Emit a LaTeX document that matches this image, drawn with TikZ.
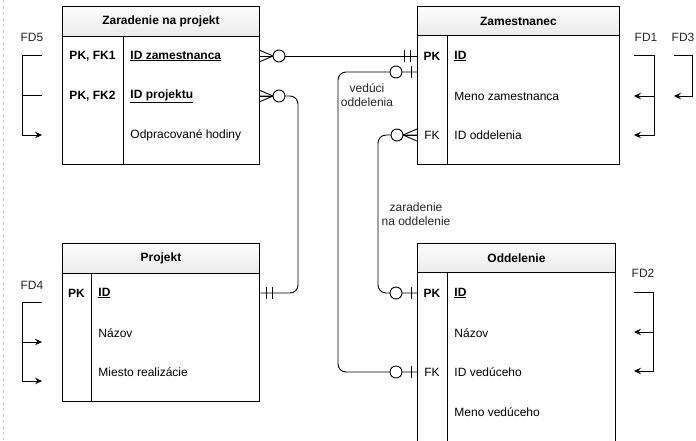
\documentclass[tikz,border=0pt]{standalone}
\usepackage{fontspec}
\setmainfont{Liberation Sans}
\usetikzlibrary{arrows.meta,calc}

\begin{document}
\begin{tikzpicture}[x=1pt,y=-1pt,line width=0.9pt,
  font=\fontsize{12}{14}\selectfont,
  hdr/.style={draw=black, top color=gray!2, bottom color=gray!16, inner sep=0pt,
    minimum height=30pt, anchor=north west, font=\fontsize{12}{14}\selectfont\bfseries},
  bodybox/.style={draw=black, fill=white, inner sep=0pt, anchor=north west},
  rowbox/.style={inner sep=0pt, outer sep=0pt, minimum height=1pt},
  keytxt/.style={inner sep=0pt, font=\fontsize{12}{14}\selectfont\bfseries},
  keyreg/.style={inner sep=0pt},
  attr/.style={inner sep=0pt, anchor=west},
  lbl/.style={inner sep=0pt, align=center, text=black!85, font=\fontsize{12}{14}\selectfont},
  conn/.style={draw=black, rounded corners=8pt},
  fdarrow/.style={draw=black, -{Stealth[length=7pt,width=6.5pt,inset=2.5pt]}},
  pics/manyzero/.style={code={
    \draw (0,-6) -- (14,0) -- (0,6);
    \draw (0,0) -- (14,0);
    \draw[fill=white] (20,0) circle[radius=6];
  }},
  pics/onlyone/.style={code={
    \draw (7,-6) -- (7,6);
    \draw (13,-6) -- (13,6);
  }},
  pics/zeroone/.style={code={
    \draw (6,-6) -- (6,6);
    \draw[fill=white] (21,0) circle[radius=6];
  }}
]
\useasboundingbox (0,0) rectangle (696,440);
\clip (0,0) rectangle (696,440);
\fill[white] (0,0) rectangle (696,440);

% page edge
\draw[gray!45, line width=0.6pt, dash pattern=on 3pt off 3pt] (3.5,0) -- (3.5,440);

% ---------- Zaradenie na projekt ----------
\node[bodybox, minimum width=197pt, minimum height=128pt] (zn-b) at (62,36) {};
\node[hdr, minimum width=197pt] (zn-h) at (62,6) {Zaradenie na projekt};
\draw ($(zn-b.north west)+(61,0)$) -- ($(zn-b.south west)+(61,0)$);
\node[rowbox, minimum width=197pt] (zn-r1) at (160.5,56) {};
\node[rowbox, minimum width=197pt] (zn-r2) at (160.5,96) {};
\node[rowbox, minimum width=197pt] (zn-r3) at (160.5,135) {};
\node[keytxt] (zn-k1) at (92.5,56) {PK, FK1};
\node[keytxt] (zn-k2) at (92.5,96) {PK, FK2};
\node[attr, font=\fontsize{12}{14}\selectfont\bfseries] (zn-a1) at (130,56) {\underline{ID zamestnanca}};
\node[attr, font=\fontsize{12}{14}\selectfont\bfseries] (zn-a2) at (130,96) {\underline{ID projektu}};
\node[attr] (zn-a3) at (130,135) {Odpracované hodiny};

% ---------- Zamestnanec ----------
\node[bodybox, minimum width=202pt, minimum height=129pt] (zm-b) at (417,35) {};
\node[hdr, minimum width=202pt, minimum height=29pt] (zm-h) at (417,6) {Zamestnanec};
\draw ($(zm-b.north west)+(30,0)$) -- ($(zm-b.south west)+(30,0)$);
\node[rowbox, minimum width=202pt] (zm-r1) at (518,56) {};
\node[rowbox, minimum width=202pt] (zm-r2) at (518,96) {};
\node[rowbox, minimum width=202pt] (zm-r3) at (518,135) {};
\coordinate (zm-lead) at ($(zm-r1.west)+(0,16)$);
\node[keytxt] (zm-k1) at (432,56) {PK};
\node[keyreg] (zm-k3) at (432,135) {FK};
\node[attr, font=\fontsize{12}{14}\selectfont\bfseries] (zm-a1) at (454,56) {\underline{ID}};
\node[attr] (zm-a2) at (454,96) {Meno zamestnanca};
\node[attr] (zm-a3) at (454,135) {ID oddelenia};

% ---------- Projekt ----------
\node[bodybox, minimum width=197pt, minimum height=128pt] (pj-b) at (62,273) {};
\node[hdr, minimum width=197pt] (pj-h) at (62,243) {Projekt};
\draw ($(pj-b.north west)+(29,0)$) -- ($(pj-b.south west)+(29,0)$);
\node[rowbox, minimum width=197pt] (pj-r1) at (160.5,293) {};
\node[keytxt] (pj-k1) at (76.5,293) {PK};
\node[attr, font=\fontsize{12}{14}\selectfont\bfseries] (pj-a1) at (98,293) {\underline{ID}};
\node[attr] (pj-a2) at (98,333) {Názov};
\node[attr] (pj-a3) at (98,372) {Miesto realizácie};

% ---------- Oddelenie ----------
\node[bodybox, minimum width=198pt, minimum height=180pt] (od-b) at (417,272) {};
\node[hdr, minimum width=198pt, minimum height=29pt] (od-h) at (417,243) {Oddelenie};
\draw ($(od-b.north west)+(30,0)$) -- ($(od-b.south west)+(30,0)$);
\node[rowbox, minimum width=198pt] (od-r1) at (516,293) {};
\node[rowbox, minimum width=198pt] (od-r3) at (516,372) {};
\node[keytxt] (od-k1) at (432,293) {PK};
\node[keyreg] (od-k3) at (432,372) {FK};
\node[attr, font=\fontsize{12}{14}\selectfont\bfseries] (od-a1) at (454,293) {\underline{ID}};
\node[attr] (od-a2) at (454,333) {Názov};
\node[attr] (od-a3) at (454,372) {ID vedúceho};
\node[attr] (od-a4) at (454,412) {Meno vedúceho};

% ---------- relationships ----------
\draw[conn] (zn-r1.east) -- (zm-r1.west);
\draw[conn] (zn-r2.east) -- ++(39,0) |- (pj-r1.east);
\draw[conn] (zm-lead) -- ++(-79,0) |- (od-r3.west);
\draw[conn] (zm-r3.west) -- ++(-39,0) |- (od-r1.west);

\pic at (zn-r1.east) {manyzero};
\pic at (zn-r2.east) {manyzero};
\pic[xscale=-1] at (zm-r1.west) {onlyone};
\pic at (pj-r1.east) {onlyone};
\pic[xscale=-1] at (zm-lead) {zeroone};
\pic[xscale=-1] at (od-r3.west) {zeroone};
\pic[xscale=-1] at (zm-r3.west) {manyzero};
\pic[xscale=-1] at (od-r1.west) {zeroone};

\node[lbl] (l-ved) at (367,95) {vedúci\\oddelenia};
\node[lbl] (l-zar) at (416,214) {zaradenie\\na oddelenie};

% ---------- functional dependencies ----------
\node[lbl] (fd5) at (32,37) {FD5};
\draw[fdarrow] (42,55) -| (22,135) -- (42,135);
\draw (42,95) -- (22,95);

\node[lbl] (fd1) at (646,37) {FD1};
\draw[fdarrow] (634,55) -| (654,135) -- (634,135);
\draw[fdarrow] (654,96) -- (634,96);

\node[lbl] (fd3) at (683,37) {FD3};
\draw[fdarrow] (674,55) -| (692,96) -- (674,96);

\node[lbl] (fd4) at (32,285) {FD4};
\draw[fdarrow] (42,302) -| (22,381) -- (42,381);
\draw[fdarrow] (22,342) -- (42,342);

\node[lbl] (fd2) at (643,273) {FD2};
\draw[fdarrow] (634,292) -| (653,371) -- (634,371);
\draw[fdarrow] (653,332) -- (634,332);
\end{tikzpicture}
\end{document}
